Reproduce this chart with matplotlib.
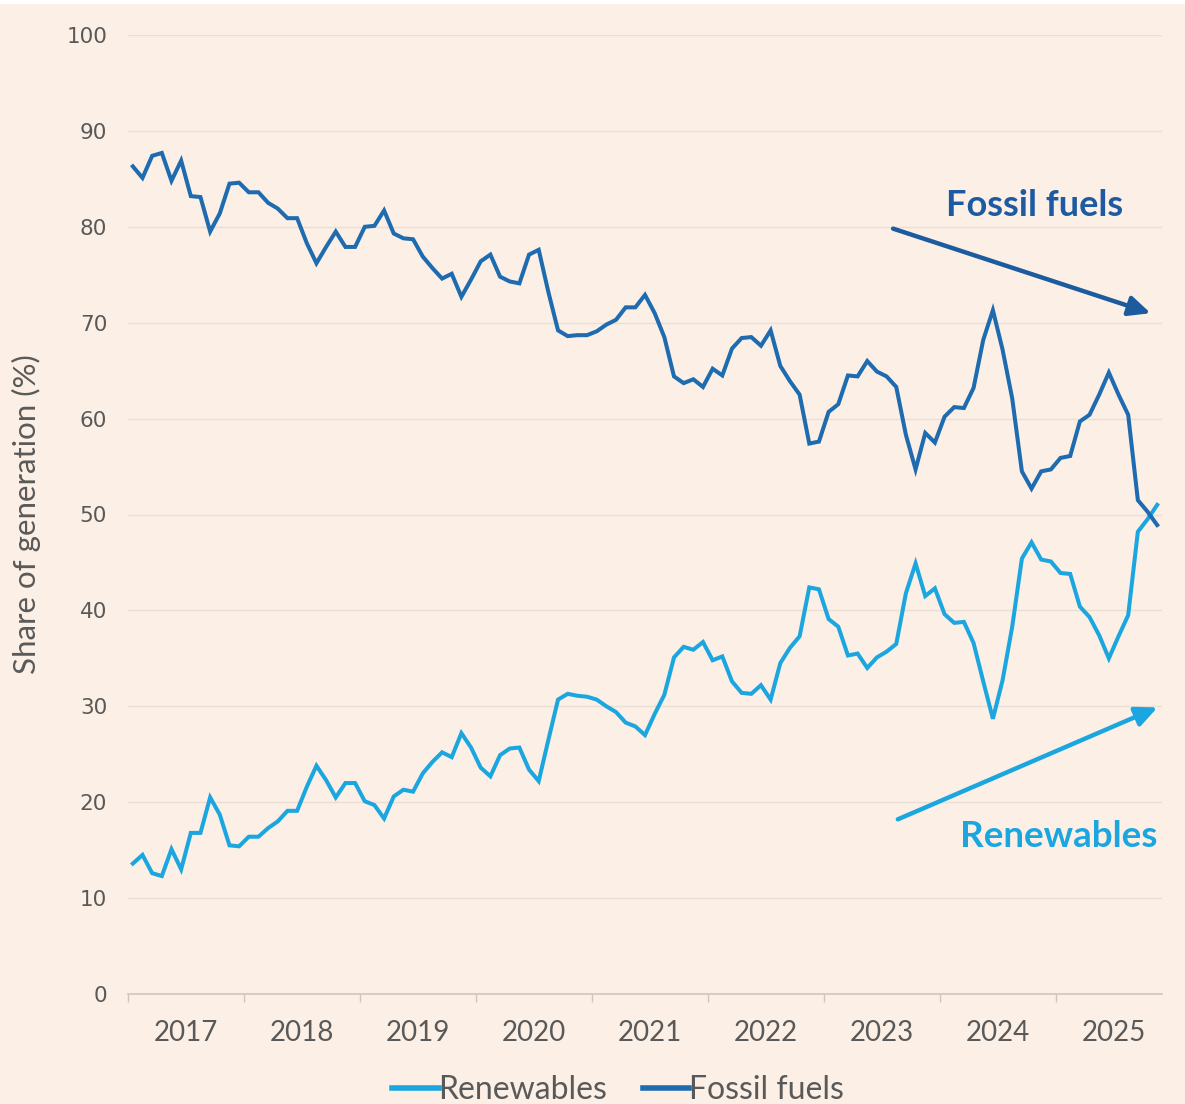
import matplotlib
matplotlib.use("Agg")
import matplotlib.pyplot as plt
from matplotlib.patches import Rectangle
import numpy as np

years = ["2017", "2018", "2019", "2020", "2021", "2022", "2023", "2024", "2025"]

fossil = [86.3, 85.1, 87.4, 87.7, 84.8, 86.9, 83.2, 83.1, 79.5, 81.4, 84.5, 84.6, 83.6, 83.6,
          82.5, 81.9, 80.9, 80.9, 78.3, 76.2, 77.9, 79.5, 77.9, 77.9, 80.0, 80.1, 81.7, 79.3,
          78.8, 78.7, 76.9, 75.7, 74.6, 75.1, 72.7, 74.5, 76.4, 77.1, 74.8, 74.3, 74.1, 77.1,
          77.6, 73.2, 69.2, 68.6, 68.7, 68.7, 69.1, 69.8, 70.3, 71.6, 71.6, 72.9, 71.0, 68.5, 64.4,
          63.7, 64.1, 63.3, 65.2, 64.5, 67.3, 68.4, 68.5, 67.6, 69.2, 65.5, 63.9, 62.5, 57.4,
          57.6, 60.7, 61.5, 64.5, 64.4, 66.0, 64.9, 64.4, 63.3, 58.3, 54.7, 58.5, 57.5, 60.2,
          61.2, 61.1, 63.2, 68.2, 71.3, 67.2, 62.1, 54.5, 52.7, 54.5, 54.7, 55.9, 56.1, 59.7,
          60.4, 62.5, 64.8, 62.5, 60.4, 51.5, 50.3, 48.9]

renewables = [13.6, 14.5, 12.6, 12.3, 15.1, 13.0, 16.8, 16.8, 20.5, 18.7, 15.5, 15.4, 16.4, 16.4,
              17.3, 18.0, 19.1, 19.1, 21.6, 23.8, 22.3, 20.5, 22.0, 22.0, 20.1, 19.7, 18.3, 20.6,
              21.3, 21.1, 23.0, 24.2, 25.2, 24.7, 27.2, 25.7, 23.6, 22.7, 24.9, 25.6, 25.7, 23.4,
              22.2, 26.5, 30.7, 31.3, 31.1, 31.0, 30.7, 30.0, 29.4, 28.3, 27.9, 27.0, 29.2, 31.2, 35.1,
              36.2, 35.9, 36.7, 34.8, 35.2, 32.6, 31.4, 31.3, 32.2, 30.7, 34.5, 36.1, 37.3, 42.4,
              42.2, 39.1, 38.3, 35.3, 35.5, 34.0, 35.1, 35.7, 36.5, 41.8, 44.9, 41.5, 42.3, 39.6,
              38.7, 38.8, 36.6, 32.6, 28.7, 32.7, 38.3, 45.4, 47.1, 45.3, 45.1, 43.9, 43.8, 40.4,
              39.3, 37.4, 35.0, 37.3, 39.5, 48.2, 49.5, 51.0]

BG = "#FCF0E6"
C_REN = "#1BA6E0"
C_FOS = "#1E6BB0"
C_FOS_TXT = "#1D5AA3"
GRAY = "#595959"

fig = plt.figure(figsize=(11.85, 11.04), dpi=100, facecolor=BG)
ax = fig.add_axes([128 / 1185, (1104 - 994) / 1104, (1162 - 128) / 1185, (994 - 35) / 1104])
ax.set_facecolor(BG)

x = np.arange(len(fossil))
ax.plot(x, renewables, color=C_REN, lw=2.9, solid_joinstyle="miter", label="Renewables", zorder=3)
ax.plot(x, fossil, color=C_FOS, lw=2.9, solid_joinstyle="miter", label="Fossil fuels", zorder=3)

ax.set_xlim(-0.5, len(fossil) - 0.5)
ax.set_ylim(0, 100)

# grid
ax.set_yticks(np.arange(0, 101, 10))
ax.yaxis.grid(True, color="#EADFD5", lw=1.0)
ax.set_axisbelow(True)
ax.tick_params(axis="y", length=0, pad=15, labelsize=15.5, labelcolor=GRAY)
for lab in ax.get_yticklabels():
    lab.set_fontfamily("DejaVu Sans")

# x ticks: boundaries (major), labels (minor)
bounds = [-0.5 + 12 * k for k in range(len(years))]
ax.set_xticks(bounds)
ax.set_xticklabels([])
ax.tick_params(axis="x", which="major", length=6, color="#D0C6BD", width=1)
ax.set_xticks([5.5 + 12 * k for k in range(len(years))], minor=True)
ax.set_xticklabels(years, minor=True, fontfamily="Lato", fontsize=20, color=GRAY)
ax.tick_params(axis="x", which="minor", length=0, pad=19)

for s in ["top", "right", "left"]:
    ax.spines[s].set_visible(False)
ax.spines["bottom"].set_color("#D0C6BD")
ax.spines["bottom"].set_linewidth(1.2)

ax.set_ylabel("Share of generation (%)", fontfamily="Lato", fontsize=22.5, color=GRAY, labelpad=18)

# annotations
ax.annotate("", xy=(105.6, 70.9), xytext=(78.4, 79.9),
            arrowprops=dict(arrowstyle="-|>,head_length=1.3,head_width=0.6", color="#1D5B9F", lw=3.2))
ax.annotate("", xy=(106.3, 30.0), xytext=(78.9, 18.1),
            arrowprops=dict(arrowstyle="-|>,head_length=1.3,head_width=0.6", color=C_REN, lw=3.2))
ax.text(93.3, 82.2, "Fossil fuels", fontfamily="Lato", fontweight="bold", fontsize=26,
        color=C_FOS_TXT, ha="center", va="center")
ax.text(95.8, 16.4, "Renewables", fontfamily="Lato", fontweight="bold", fontsize=26.5,
        color=C_REN, ha="center", va="center")

leg = fig.legend(loc="center", bbox_to_anchor=(618 / 1185, 1 - 1090 / 1104), ncol=2,
                 frameon=False, handlelength=1.45, handletextpad=0.0, columnspacing=1.1,
                 prop={"family": "Lato", "size": 23})
for line in leg.get_lines():
    line.set_linewidth(4)
for t in leg.get_texts():
    t.set_color(GRAY)

fig.patches.append(Rectangle((0, 1 - 4 / 1104), 1, 4 / 1104, transform=fig.transFigure,
                             facecolor="white", edgecolor="none", zorder=10))

fig.savefig("out.png", dpi=100, facecolor=BG)
